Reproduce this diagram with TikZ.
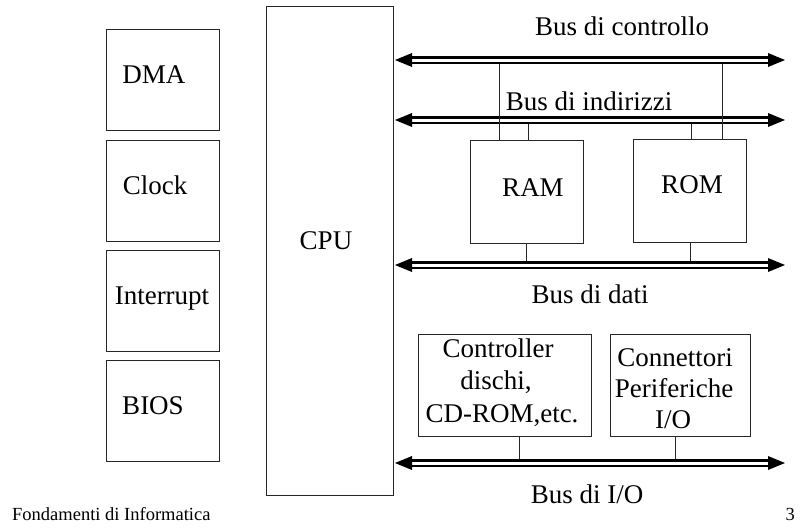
\documentclass[tikz,border=0pt]{standalone}
\usepackage{fontspec}
\setmainfont{Liberation Serif}
\tikzset{
  box/.style={draw=black!85, line width=0.9pt, inner sep=0pt, outer sep=0pt},
  lbl/.style={anchor=base, inner sep=0pt, font=\fontsize{27}{32}\selectfont},
  foot/.style={anchor=base, inner sep=0pt, font=\fontsize{18.5}{22}\selectfont},
  tap/.style={draw=black!85, line width=0.8pt},
  busouter/.style={line width=7.5pt, shorten <=14pt, shorten >=14pt},
  businner/.style={draw=white, line width=3pt, shorten <=16pt, shorten >=16pt},
  bushead/.style={fill=black}
}
\newcommand\busdraw[2]{%
  \draw[busouter] (#1) -- (#2);
  \draw[businner] (#1) -- (#2);
  \fill[bushead] (#1) -- ++(17,-7) -- ++(0,14) -- cycle;
  \fill[bushead] (#2) -- ++(-17,-7) -- ++(0,14) -- cycle;
}
\begin{document}
\begin{tikzpicture}[x=1pt,y=-1pt]
\useasboundingbox (0,0) rectangle (812,531);
% left boxes
\node[box, minimum width=113pt, minimum height=101pt] (dma) at (162.5,79.5) {};
\node[box, minimum width=113pt, minimum height=101pt] (clk) at (162.5,190.5) {};
\node[box, minimum width=113pt, minimum height=101pt] (irq) at (162.5,300.5) {};
\node[box, minimum width=113pt, minimum height=101pt] (bios) at (162.5,410.5) {};
\node[lbl] (tdma) at (154,83) {DMA};
\node[lbl] (tclk) at (155,194) {Clock};
\node[lbl] (tirq) at (162,304) {Interrupt};
\node[lbl] (tbios) at (153,414) {BIOS};
% CPU
\node[box, minimum width=127pt, minimum height=489pt] (cpu) at (329.5,250.5) {};
\node[lbl] (tcpu) at (326,249) {CPU};
% memories
\node[box, minimum width=113pt, minimum height=103pt] (ram) at (526.5,191.5) {};
\node[box, minimum width=113pt, minimum height=103pt] (rom) at (689.5,190.5) {};
\node[lbl] (tram) at (533,196) {RAM};
\node[lbl] (trom) at (692,193) {ROM};
% I/O boxes
\node[box, minimum width=173pt, minimum height=102pt] (ctl) at (504.5,385) {};
\node[box, minimum width=140pt, minimum height=102pt] (con) at (680,385) {};
\node[lbl] (ctl1) at (498,357) {Controller};
\node[lbl] (ctl2) at (496,389.5) {dischi,};
\node[lbl] (ctl3) at (502,422) {CD-ROM,etc.};
\node[lbl] (con1) at (675,366) {Connettori};
\node[lbl] (con2) at (674,397) {Periferiche};
\node[lbl] (con3) at (673,428) {I/O};
% buses
\coordinate (cL) at (395,60);  \coordinate (cR) at (785,60);
\coordinate (aL) at (395,120); \coordinate (aR) at (785,120);
\coordinate (dL) at (395,265); \coordinate (dR) at (785,265);
\coordinate (iL) at (395,463); \coordinate (iR) at (785,463);
\busdraw{cL}{cR}
\busdraw{aL}{aR}
\busdraw{dL}{dR}
\busdraw{iL}{iR}
\node[lbl] (lc) at (622,35) {Bus di controllo};
\node[lbl] (la) at (589,110) {Bus di indirizzi};
\node[lbl] (ld) at (590,303) {Bus di dati};
\node[lbl] (li) at (587,503) {Bus di I/O};
% taps
\coordinate (t1) at (499,64);
\coordinate (t2) at (722,64);
\coordinate (t3) at (528,124);
\coordinate (t4) at (691,124);
\coordinate (t5) at (526,261);
\coordinate (t6) at (690,261);
\coordinate (t7) at (519,459);
\coordinate (t8) at (675,459);
\draw[tap] (t1) -- (t1 |- ram.north);
\draw[tap] (t2) -- (t2 |- rom.north);
\draw[tap] (t3) -- (t3 |- ram.north);
\draw[tap] (t4) -- (t4 |- rom.north);
\draw[tap] (t5 |- ram.south) -- (t5);
\draw[tap] (t6 |- rom.south) -- (t6);
\draw[tap] (t7 |- ctl.south) -- (t7);
\draw[tap] (t8 |- con.south) -- (t8);
% footer
\node[foot, anchor=base west] (f1) at (12,520) {Fondamenti di Informatica};
\node[foot, anchor=base east] (f2) at (795,520) {3};
\end{tikzpicture}
\end{document}
